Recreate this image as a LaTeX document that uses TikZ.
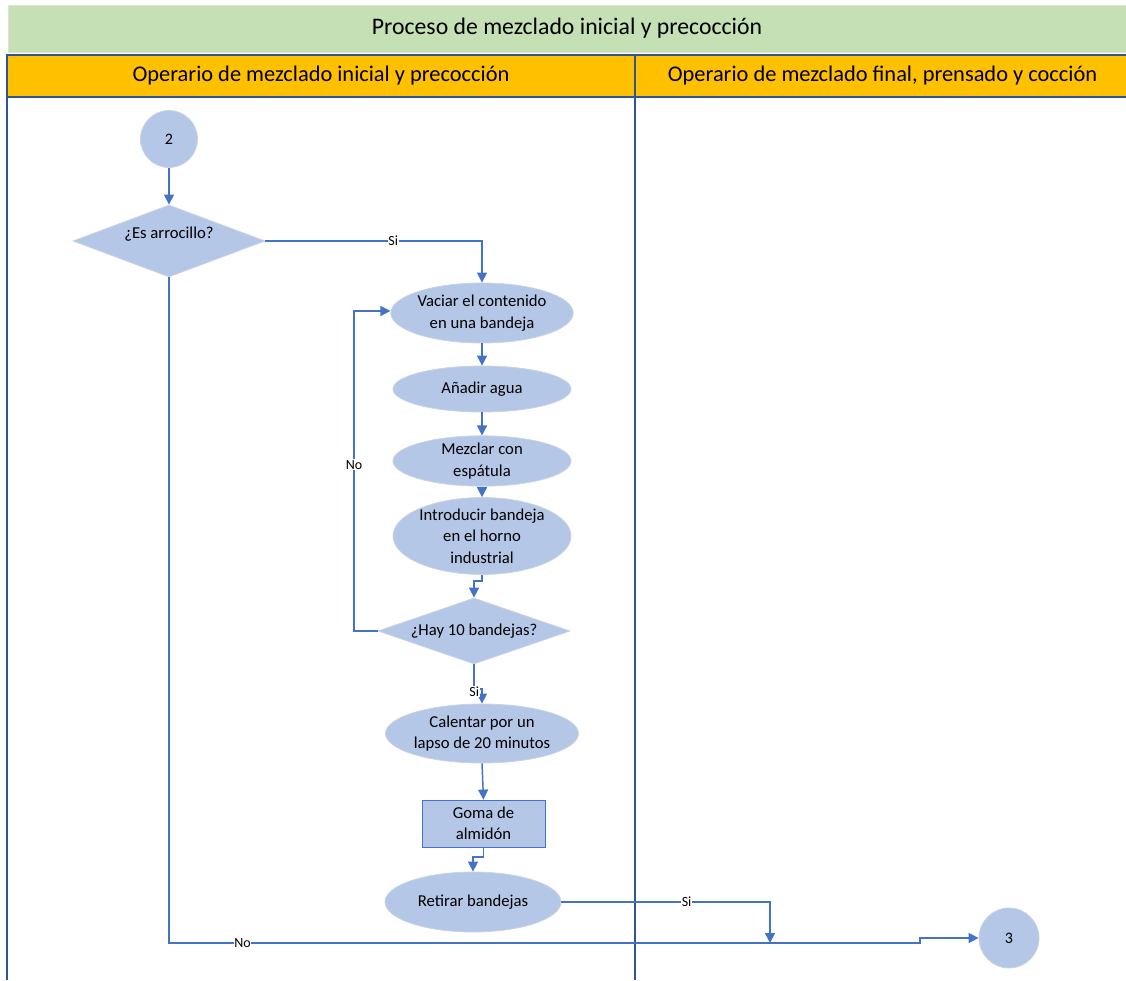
\documentclass[tikz,border=0pt]{standalone}
\usepackage{fontspec}
\setmainfont{Carlito}
\usetikzlibrary{shapes.geometric,arrows.meta}
\definecolor{lanegreen}{HTML}{C5E0B4}
\definecolor{laneorange}{HTML}{FFC000}
\definecolor{laneline}{HTML}{2F5597}
\definecolor{flow}{HTML}{4472C4}
\definecolor{shapefill}{HTML}{B4C7E7}
\definecolor{shapeedge}{HTML}{C9D3E3}
% one drawing unit (a screen pixel)
\newdimen\px \px=0.75pt
\tikzset{
  base/.style={fill=shapefill,draw=shapeedge,line width=0.6pt,inner sep=0pt,align=center,font=\fontsize{12.5}{16}\selectfont},
  proc/.style={base,ellipse,minimum width=178\px,minimum height=#1\px},
  decision/.style={base,diamond,minimum width=#1\px},
  connector/.style={base,circle,minimum size=57\px,font=\fontsize{12}{14}\selectfont},
  boxstep/.style={base,rectangle,draw=flow,minimum width=123\px,minimum height=47\px},
  flowline/.style={draw=flow,line width=1.1pt,-{Triangle[length=7.5pt,width=7.5pt]}},
  edgelabel/.style={fill=white,inner sep=0.5pt,font=\fontsize{10.5}{12}\selectfont},
  lanehead/.style={fill=laneorange,draw=laneline,line width=0.8pt,minimum height=42\px,inner sep=0pt,font=\fontsize{16.8}{20}\selectfont},
  decisiontext/.style={font=\fontsize{12.5}{15}\selectfont},
}
\begin{document}
\begin{tikzpicture}[x=0.75pt,y=-0.75pt]
  \useasboundingbox (0,0) rectangle (1126,980);
  % pool title and lane headers
  \node[fill=lanegreen,draw=black!12,minimum width=1118\px,minimum height=47\px,inner sep=0pt,font=\fontsize{17.8}{21}\selectfont] (pool) at (567,28.5) {Proceso de mezclado inicial y precocción};
  \node[lanehead,minimum width=628\px] (laneA) at (321,76) {Operario de mezclado inicial y precocción};
  \node[lanehead,minimum width=495\px] (laneB) at (882.5,76) {Operario de mezclado final, prensado y cocción};
  % lane bodies
  \draw[laneline,line width=0.8pt] (7,97) -- (7,980);
  \draw[laneline,line width=0.8pt] (635,97) -- (635,980);
  \draw[laneline,line width=0.8pt] (635,97) -- (1126,97);

  % flow shapes
  \node[connector] (c2) at (169,139) {2};
  \node[decision=192,minimum height=72\px,label={[yshift=7\px,decisiontext]center:¿Es arrocillo?}] (d1) at (169,241) {};
  \node[proc=60] (e1) at (482,313) {Vaciar el contenido\\en una bandeja};
  \node[proc=46] (e2) at (482,389) {Añadir agua};
  \node[proc=46] (e3) at (482,461) {Mezclar con\\espátula};
  \node[proc=72] (e4) at (482,536) {Introducir bandeja\\en el horno\\industrial};
  \node[decision=192,minimum height=66\px,label={[decisiontext]center:¿Hay 10 bandejas?}] (d2) at (474,631) {};
  \node[proc=59] (e5) at (482,733.5) {Calentar por un\\lapso de 20 minutos};
  \node[boxstep] (r1) at (483.5,823.5) {Goma de\\almidón};
  \node[proc=60,minimum width=176\px] (e6) at (473,902) {Retirar bandejas};
  \node[connector,minimum height=60\px] (c3) at (1009,938) {3};

  % connectors
  \coordinate (merge) at (770,943);
  \coordinate (step3) at (920,943);
  \draw[flowline] (c2) -- (d1);
  \draw[flowline] (d1.east) -| (e1.north)
    node[edgelabel,pos=0.295] {Si};
  \draw[flowline] (e1) -- (e2);
  \draw[flowline] (e2) -- (e3);
  \draw[flowline] (e3) -- (e4);
  \draw[flowline] (e4.south) -- (e4.south |- 0,581) -| (d2.north);
  \draw[flowline] (d2.west) -- (354,631) -- (354,311) node[edgelabel,pos=0.52] {No} -- (e1.west |- 0,311);
  \draw[flowline] (d2.south) -- (474,689) -| (e5.north) node[edgelabel,pos=0.1,xshift=-1pt,yshift=-2pt] {Si};
  \draw[flowline] (e5.south) -- (r1.north);
  \draw[flowline] (r1.south) -- (r1.south |- 0,857) -| (e6.north);
  \draw[flowline] (e6.east) -- (770,902) node[edgelabel,pos=0.6] {Si} -- (merge);
  \draw[flowline] (d1.south) |- (step3) node[edgelabel,pos=0.549] {No} -- (920,938) -- (c3.west);
\end{tikzpicture}
\end{document}
